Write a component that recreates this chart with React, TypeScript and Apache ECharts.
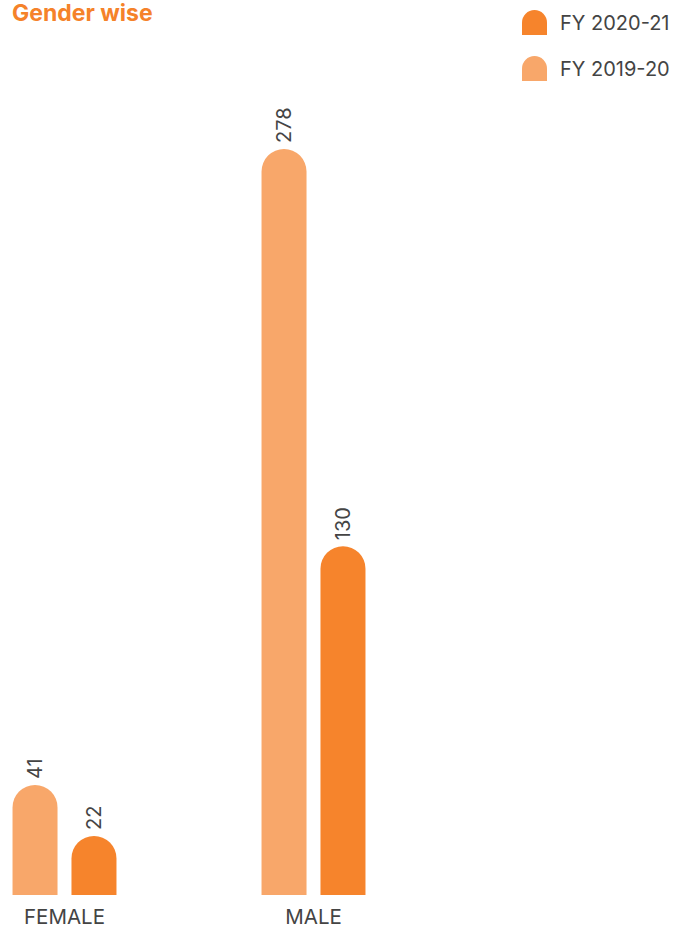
import React, { useEffect, useRef } from "react";
import * as echarts from "echarts";

const categories = ["FEMALE", "MALE"];
const fy1920 = [41, 278];
const fy2021 = [22, 130];
const seriesNames = ["FY 2019-20", "FY 2020-21"];
const legendOrder = ["FY 2020-21", "FY 2019-20"];

const LIGHT = "#F8A76A";
const DARK = "#F6842C";
const TEXT = "#444444";
const FONT = "Inter";
const SHIFT = 60;

export default function App() {
  const ref = useRef<HTMLDivElement>(null);
  useEffect(() => {
    if (!ref.current) return;
    const chart = echarts.init(ref.current, undefined, { renderer: "svg" });
    const icon = "path://M0,12 A12,12 0 0 1 24,12 L24,24 L0,24 Z";
    const label = {
      show: true,
      position: "top" as const,
      rotate: 90,
      align: "left" as const,
      verticalAlign: "middle" as const,
      distance: 6,
      color: TEXT,
      fontSize: 20,
      fontFamily: FONT,
    };
    chart.setOption({
      animation: false,
      title: {
        text: "Gender wise",
        left: 12 + SHIFT,
        top: 1,
        padding: 0,
        textStyle: { color: "#F5822A", fontSize: 23, fontWeight: "bold", fontFamily: FONT },
      },
      legend: {
        data: legendOrder,
        orient: "vertical",
        left: 522 + SHIFT,
        top: 10,
        padding: 0,
        itemWidth: 25,
        itemHeight: 25,
        itemGap: 21,
        icon,
        textStyle: { color: TEXT, fontSize: 20, fontFamily: FONT, padding: [0, 0, 0, 8] },
      },
      grid: { left: 0, width: 498, top: 90, bottom: 34 },
      xAxis: {
        type: "category",
        data: categories,
        axisLine: { show: false },
        axisTick: { show: false },
        axisLabel: { color: TEXT, fontSize: 20.5, lineHeight: 20, fontFamily: FONT, margin: 11 },
      },
      yAxis: {
        type: "value",
        min: 0,
        max: 300,
        show: false,
        splitLine: { show: false },
      },
      series: [
        {
          name: seriesNames[0],
          type: "bar",
          data: fy1920,
          barWidth: 45,
          barGap: "31%",
          itemStyle: { color: LIGHT, borderRadius: [22.5, 22.5, 0, 0] },
          label,
        },
        {
          name: seriesNames[1],
          type: "bar",
          data: fy2021,
          barWidth: 45,
          itemStyle: { color: DARK, borderRadius: [22.5, 22.5, 0, 0] },
          label,
        },
      ],
    });
    return () => chart.dispose();
  }, []);
  return (
    <div
      ref={ref}
      style={{ position: "absolute", left: -SHIFT, top: 0, width: 674 + SHIFT, height: 929 }}
    />
  );
}
